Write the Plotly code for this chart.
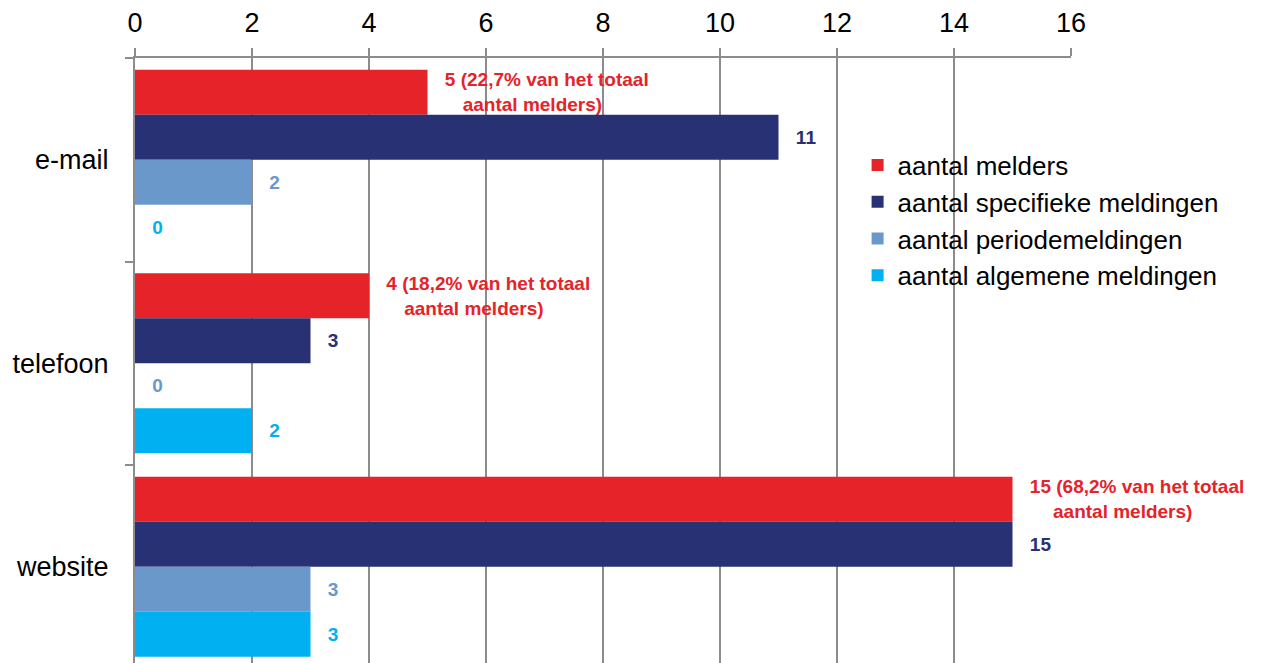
import plotly.graph_objects as go

categories = ["e-mail", "telefoon", "website"]
series_names = ["aantal melders", "aantal specifieke meldingen",
                "aantal periodemeldingen", "aantal algemene meldingen"]
melders = [5, 4, 15]
melders_pct = ["22,7", "18,2", "68,2"]
specifiek = [11, 3, 15]
periode = [2, 0, 3]
algemeen = [0, 2, 3]
x_ticks = [0, 2, 4, 6, 8, 10, 12, 14, 16]

colors = ["#E52329", "#283173", "#6A98CB", "#00B0F0"]
PAD = "\u00a0\u00a0\u2009"

def labels(vals):
    return [PAD + str(v) for v in vals]

melder_labels = [PAD + f"{v} ({p}% van het totaal<br>aantal melders)" + PAD
                 for v, p in zip(melders, melders_pct)]

data_sets = [
    (melders, melder_labels),
    (specifiek, labels(specifiek)),
    (periode, labels(periode)),
    (algemeen, labels(algemeen)),
]

fig = go.Figure()
for i, ((vals, txt), name) in enumerate(zip(data_sets, series_names)):
    fig.add_trace(go.Bar(
        y=categories, x=vals, orientation="h", name=name,
        marker=dict(color=colors[i], line=dict(width=0)),
        text=txt, textposition="outside", cliponaxis=False,
        constraintext="none",
        textfont=dict(family="Liberation Sans, Arial", size=19,
                      color=colors[i], weight="bold"),
        legendgroup=f"g{i}",
        hoverinfo="skip",
    ))

fig.update_layout(
    width=1287, height=663, autosize=False,
    margin=dict(l=135, r=216, t=58, b=0, autoexpand=False),
    barmode="group", bargap=0.115, bargroupgap=0,
    plot_bgcolor="white", paper_bgcolor="white",
    font=dict(family="Liberation Sans, Arial", size=27, color="black"),
    showlegend=True,
    legend=dict(x=0.772, y=0.862, xanchor="left", yanchor="top",
                traceorder="normal", tracegroupgap=0,
                font=dict(size=26), bgcolor="rgba(0,0,0,0)"),
    xaxis=dict(side="top", range=[0, 16], tickvals=x_ticks, automargin=False,
               showgrid=True, gridcolor="#8C8C8C", gridwidth=2,
               showline=True, linecolor="#8C8C8C", linewidth=2,
               ticks="outside", ticklen=8, tickwidth=2, tickcolor="#8C8C8C",
               zeroline=False, tickfont=dict(size=27), ticklabelstandoff=5),
    yaxis=dict(range=[2.473, -0.5], type="category", automargin=False,
               showline=True, linecolor="#8C8C8C", linewidth=2,
               ticks="outside", ticklen=8, tickwidth=2, tickcolor="#8C8C8C",
               tickson="boundaries", showgrid=False,
               tickfont=dict(size=27), ticklabelstandoff=19),
)

fig.write_html("out.html",
               config={"displayModeBar": False},
               post_script="document.body.style.margin='0';"
                           "document.body.style.overflow='hidden';")
